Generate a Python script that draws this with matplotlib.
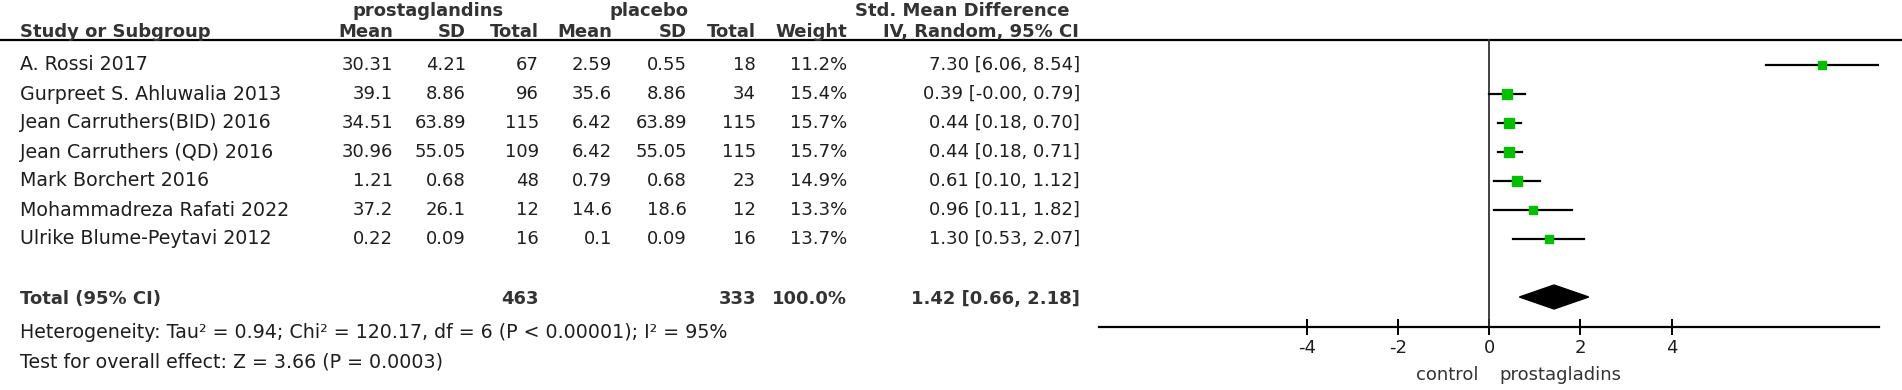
import numpy as np
import matplotlib.pyplot as plt

# study data
studies = ["A. Rossi 2017", "Gurpreet S. Ahluwalia 2013", "Jean Carruthers(BID) 2016",
           "Jean Carruthers (QD) 2016", "Mark Borchert 2016", "Mohammadreza Rafati 2022",
           "Ulrike Blume-Peytavi 2012"]
pg_mean = [30.31, 39.1, 34.51, 30.96, 1.21, 37.2, 0.22]
pg_sd = [4.21, 8.86, 63.89, 55.05, 0.68, 26.1, 0.09]
pg_n = [67, 96, 115, 109, 48, 12, 16]
pl_mean = [2.59, 35.6, 6.42, 6.42, 0.79, 14.6, 0.1]
pl_sd = [0.55, 8.86, 63.89, 55.05, 0.68, 18.6, 0.09]
pl_n = [18, 34, 115, 115, 23, 12, 16]
weight = [11.2, 15.4, 15.7, 15.7, 14.9, 13.3, 13.7]
smd = [7.30, 0.39, 0.44, 0.44, 0.61, 0.96, 1.30]
ci_lo = [6.06, -0.00, 0.18, 0.18, 0.10, 0.11, 0.53]
ci_hi = [8.54, 0.79, 0.70, 0.71, 1.12, 1.82, 2.07]
total_weight = 100.0
total_smd, total_lo, total_hi = 1.42, 0.66, 2.18
heterogeneity = "Heterogeneity: Tau\u00b2 = 0.94; Chi\u00b2 = 120.17, df = 6 (P < 0.00001); I\u00b2 = 95%"
overall = "Test for overall effect: Z = 3.66 (P = 0.0003)"
xticks = [-4, -2, 0, 2, 4]

W, H = 1902, 390
fig = plt.figure(figsize=(W / 100, H / 100), dpi=100)
txt = '#1e1e1e'
fs = 13

# table part, pixel coordinates
tab = fig.add_axes([0, 0, 1, 1])
tab.set_xlim(0, W)
tab.set_ylim(H, 0)
tab.axis('off')

rows = 65 + 29 * np.arange(len(studies))
y_total = 297
y_h1, y_h2, y_line = 11, 32, 40

bold = dict(fontsize=fs, fontweight='bold', color='#333333', va='center')
norm = dict(fontsize=fs, color=txt, va='center')
wide = dict(fontsize=13.7, color=txt, va='center')

tab.text(428, y_h1, "prostaglandins", ha='center', **bold)
tab.text(649, y_h1, "placebo", ha='center', **bold)
tab.text(962, y_h1, "Std. Mean Difference", ha='center', **bold)
tab.text(20, y_h2, "Study or Subgroup", ha='left', **bold)
col_x = [393, 466, 539, 612, 687, 756, 847]
for x, h in zip(col_x, ["Mean", "SD", "Total", "Mean", "SD", "Total", "Weight"]):
    tab.text(x, y_h2, h, ha='right', **bold)
tab.text(1079, y_h2, "IV, Random, 95% CI", ha='right', **bold)
tab.plot([0, W], [y_line, y_line], color='black', lw=1.6)

for i, y in enumerate(rows):
    tab.text(20, y, studies[i], ha='left', **wide)
    vals = [pg_mean[i], pg_sd[i], pg_n[i], pl_mean[i], pl_sd[i], pl_n[i]]
    for x, v in zip(col_x[:6], vals):
        tab.text(x, y, str(v), ha='right', **norm)
    tab.text(col_x[6], y, f"{weight[i]:.1f}%", ha='right', **norm)
    tab.text(1080, y, f"{smd[i]:.2f} [{ci_lo[i]:.2f}, {ci_hi[i]:.2f}]", ha='right', **norm)

tab.text(20, y_total + 2, "Total (95% CI)", ha='left', **bold)
tab.text(col_x[2], y_total + 2, str(sum(pg_n)), ha='right', **bold)
tab.text(col_x[5], y_total + 2, str(sum(pl_n)), ha='right', **bold)
tab.text(col_x[6], y_total + 2, f"{total_weight:.1f}%", ha='right', **bold)
tab.text(1080, y_total + 2, f"{total_smd:.2f} [{total_lo:.2f}, {total_hi:.2f}]", ha='right', **bold)
tab.text(20, 333, heterogeneity, ha='left', **wide)
tab.text(20, 362, overall, ha='left', **wide)

# forest part
zero_px, unit = 1489.3, 45.6
xmin, xmax = -8.55, 8.55
ax = fig.add_axes([(zero_px + xmin * unit) / W, 0, (xmax - xmin) * unit / W, 1])
ax.set_xlim(xmin, xmax)
ax.set_ylim(H, 0)
ax.patch.set_alpha(0)
for s in ['top', 'left', 'right']:
    ax.spines[s].set_visible(False)
y_axis = 327
ax.spines['bottom'].set_position(('data', y_axis))
ax.spines['bottom'].set_linewidth(1.6)
ax.set_yticks([])
ax.set_xticks(xticks)
ax.set_xticklabels([str(t) for t in xticks])
ax.tick_params(axis='x', direction='inout', length=11, width=1.4, pad=3,
               labelsize=fs, labelcolor=txt)

ax.plot([0, 0], [y_line, y_axis], color='#333333', lw=1.3)
for i, y in enumerate(rows):
    ax.plot([ci_lo[i], ci_hi[i]], [y, y], color='black', lw=1.6)
    ax.plot(smd[i], y, marker='s', ms=weight[i] * 0.46, color='#00c000', mec='#00c000')

ax.fill([total_lo, total_smd, total_hi, total_smd],
        [y_total, y_total - 12, y_total, y_total + 12], color='black')

ax.text(-0.24, 375, "control", ha='right', va='center', fontsize=fs, color='#333333')
ax.text(0.22, 375, "prostagladins", ha='left', va='center', fontsize=fs, color='#333333')

fig.savefig('out.png', dpi=100)
